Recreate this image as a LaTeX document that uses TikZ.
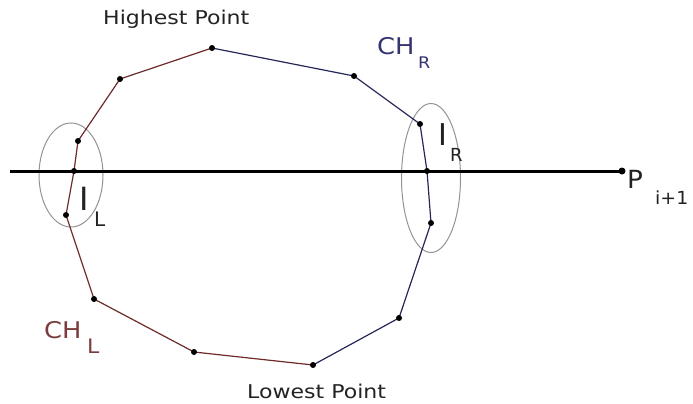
\documentclass[tikz,border=0pt]{standalone}
\usepackage{fontspec}
\setmainfont{DejaVu Sans}
\definecolor{leftc}{HTML}{6E2A2A}
\definecolor{rightc}{HTML}{262658}
\definecolor{chl}{HTML}{7A3C3C}
\definecolor{chr}{HTML}{343470}
\definecolor{txt}{HTML}{222222}
\begin{document}
\begin{tikzpicture}[x=1pt,y=-1pt,
  vdot/.style={circle,fill=black,inner sep=0pt,minimum size=6pt},
  lchain/.style={draw=leftc,line width=1.2pt},
  rchain/.style={draw=rightc,line width=1.2pt},
  hullell/.style={draw=gray!85,line width=1pt},
  lbl/.style={inner sep=0pt,anchor=base west,text=txt},
  bigl/.style={lbl,font=\fontsize{19}{19}\selectfont,xscale=1.16},
]
\useasboundingbox (0,0) rectangle (693,404);
% ellipses
\draw[hullell] (71,175) ellipse [x radius=32, y radius=52];
\draw[hullell] (431,178) ellipse [x radius=29.5, y radius=74.5];
% vertices
\coordinate (H) at (212,48);
\coordinate (A) at (120,79);
\coordinate (L1) at (78,141);
\coordinate (LX) at (74,171);
\coordinate (L2) at (66,215);
\coordinate (B) at (94,299);
\coordinate (C) at (194,352);
\coordinate (Lo) at (313,365);
\coordinate (D) at (399,318);
\coordinate (R2) at (431,223);
\coordinate (RX) at (427,171);
\coordinate (R1) at (420,124);
\coordinate (E) at (354,76);
\coordinate (S) at (10,171);
\coordinate (T) at (622,171);
% chains
\draw[lchain] (H) -- (A) -- (L1) -- (LX) -- (L2) -- (B) -- (C) -- (Lo);
\draw[rchain] (H) -- (E) -- (R1) -- (RX) -- (R2) -- (D) -- (Lo);
% horizontal line
\draw[line width=3pt] (S) -- (T);
\node[vdot,minimum size=7pt] at (T) {};
% dots
\foreach \p in {H,A,L1,LX,L2,B,C,Lo,D,R2,RX,R1,E} \node[vdot] at (\p) {};
% labels
\node[bigl] (hp) at (103,25) {Highest Point};
\node[bigl] (lp) at (247,398) {Lowest Point};
\node[lbl,text=chr,font=\fontsize{23}{23}\selectfont,xscale=1.12] (chr) at (377,55) {CH};
\node[lbl,text=chr,font=\fontsize{16}{16}\selectfont,xscale=1.1] (chrs) at (418,68) {R};
\node[lbl,text=chl,font=\fontsize{23}{23}\selectfont,xscale=1.12] (chl) at (44,338) {CH};
\node[lbl,text=chl,font=\fontsize{20}{20}\selectfont,xscale=1.1] (chls) at (87,353) {L};
\node[lbl,font=\fontsize{32}{32}\selectfont] (il) at (79,210) {I};
\node[lbl,font=\fontsize{20}{20}\selectfont] (ils) at (94,226) {L};
\node[lbl,font=\fontsize{30}{30}\selectfont] (ir) at (438,145) {I};
\node[lbl,font=\fontsize{18}{18}\selectfont] (irs) at (450,161) {R};
\node[lbl,font=\fontsize{25}{25}\selectfont,xscale=1.05] (p) at (627,188) {P};
\node[lbl,font=\fontsize{18}{18}\selectfont,xscale=1.05] (ps) at (655,204) {i+1};
\end{tikzpicture}
\end{document}
